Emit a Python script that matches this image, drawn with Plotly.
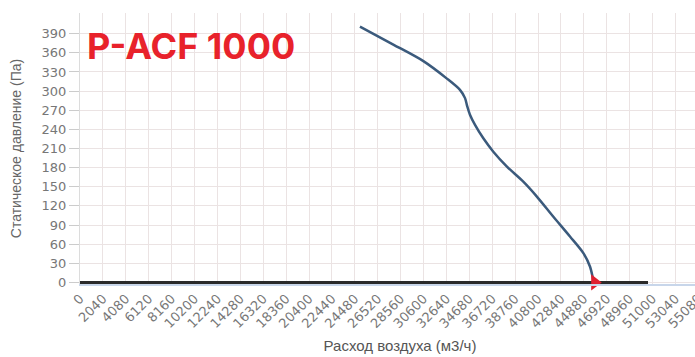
import plotly.graph_objects as go

# Fan curve: air flow (m3/h) vs static pressure (Pa)
flow = [24940, 27910, 30590, 32660, 33850, 34300, 34500, 34740, 35190, 35930,
        36820, 38010, 39490, 40680, 42170, 43650, 44840, 45430, 45730, 45800]
pressure = [401, 373, 347, 320, 302, 289, 276, 263, 247, 226,
            205, 182, 158, 135, 103, 72, 46, 25, 4, 0]

# Zero-pressure baseline series
base_flow = [0, 50600]
base_pressure = [0, 0]

# Operating point marker
point_flow = [45850]
point_pressure = [0]

x_ticks = [0, 2040, 4080, 6120, 8160, 10200, 12240, 14280, 16320, 18360, 20400,
           22440, 24480, 26520, 28560, 30600, 32640, 34680, 36720, 38760, 40800,
           42840, 44880, 46920, 48960, 51000, 53040, 55080]
y_ticks = [0, 30, 60, 90, 120, 150, 180, 210, 240, 270, 300, 330, 360, 390]

title_text = "P-ACF 1000"
x_title = "Расход воздуха (м3/ч)"
y_title = "Статическое давление (Па)"

fig = go.Figure()
fig.add_trace(go.Scatter(x=base_flow, y=base_pressure, mode="lines",
                         line=dict(color="#2a2a2a", width=3), hoverinfo="skip"))
fig.add_trace(go.Scatter(x=flow, y=pressure, mode="lines",
                         line=dict(color="#3b5a7c", width=2.5, shape="spline", smoothing=0.8)))
fig.add_trace(go.Scatter(x=point_flow, y=point_pressure, mode="markers",
                         marker=dict(symbol="triangle-right", size=14, color="#e02030"),
                         cliponaxis=False))

W = 720
plot_w = W - 80
plot_h = 357 - 13 - 73
fig.update_layout(
    width=W, height=357,
    margin=dict(l=80, r=0, t=13, b=73),
    paper_bgcolor="white", plot_bgcolor="white",
    showlegend=False,
    font=dict(family="DejaVu Sans", color="#666666"),
    annotations=[dict(text="<b>" + title_text + "</b>",
                      x=(85 - 80) / plot_w, y=(284 - 46) / plot_h,
                      xref="paper", yref="paper", xanchor="left", yanchor="middle",
                      showarrow=False,
                      font=dict(family="Inter", size=36, color="#e8222b"))],
)

fig.update_xaxes(
    range=[0, 2040 * plot_w / 22.9],
    tickvals=x_ticks, ticktext=[str(v) for v in x_ticks], tickangle=-45,
    tickfont=dict(size=13, color="#777777"),
    showgrid=True, gridcolor="#ebe3e3", gridwidth=1,
    zeroline=False, showline=True, linecolor="#c8d6ea", linewidth=2,
    ticks="", title=dict(text=x_title, font=dict(family="Liberation Sans", size=15, color="#555555"), standoff=10),
    automargin=False,
)
fig.update_yaxes(
    range=[-2.5, 422.5],
    tickvals=y_ticks, tickfont=dict(size=13, color="#777777"),
    showgrid=True, gridcolor="#ebe3e3", gridwidth=1,
    zeroline=False, showline=True, linecolor="#dcdcdc", linewidth=1,
    ticks="outside", ticklen=10, tickcolor="#cccccc",
    title=dict(text=y_title, font=dict(family="Liberation Sans", size=14, color="#666666"), standoff=16),
    automargin=False,
)

fig.write_html("out.html", config={"displayModeBar": False},
               post_script="document.body.style.overflow='hidden';document.body.style.margin='0';")
